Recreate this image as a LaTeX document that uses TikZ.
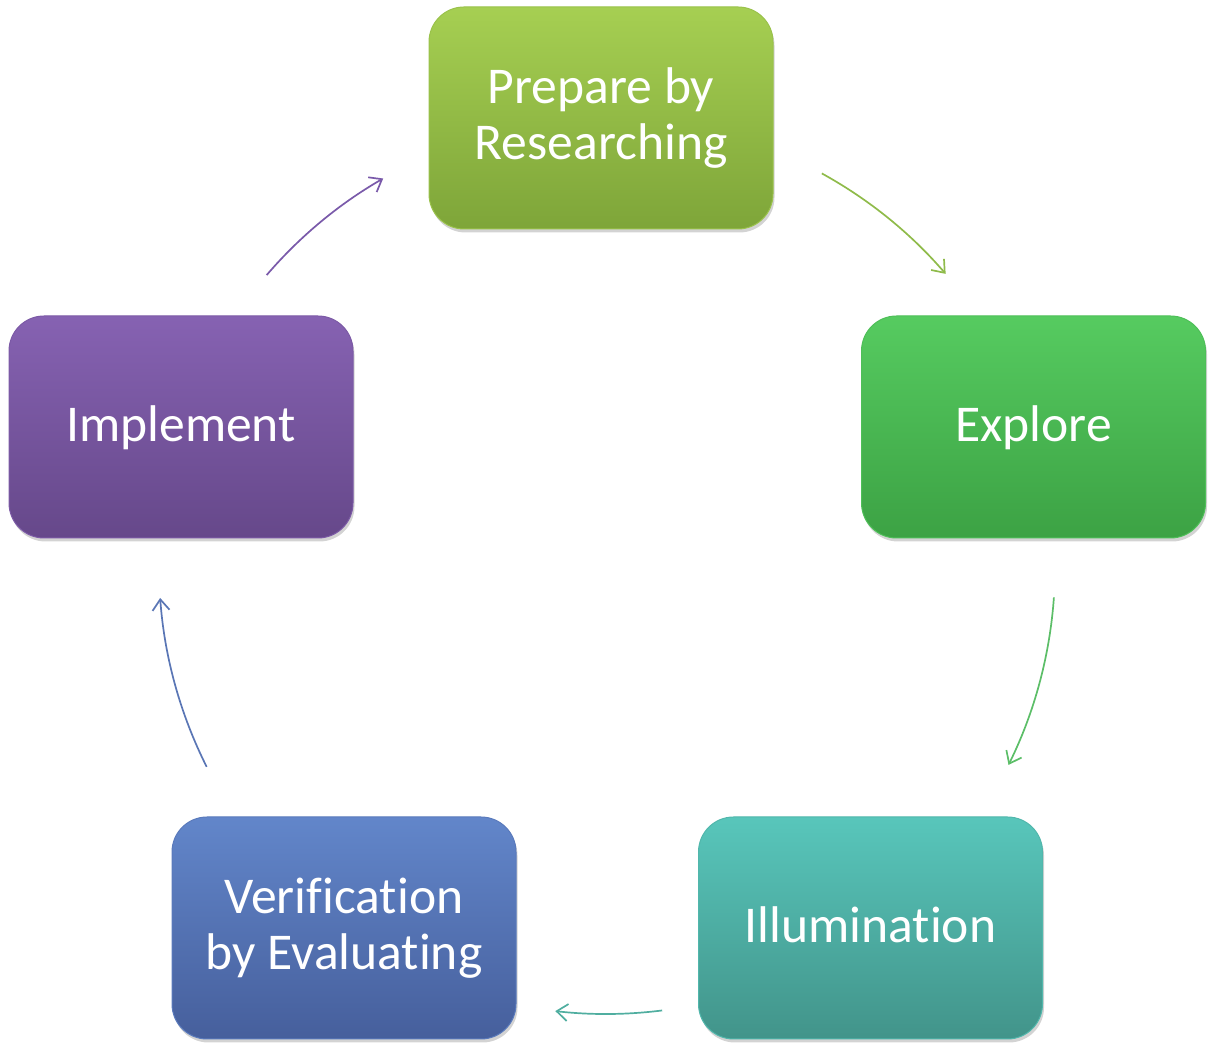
\documentclass[tikz,border=0pt]{standalone}
\usepackage{fontspec}
\setmainfont[Ligatures={NoCommon},RawFeature={-liga;-dlig;-clig}]{Carlito}
\usetikzlibrary{shadows,arrows.meta}
\definecolor{cAt}{RGB}{166,207,82}\definecolor{cAb}{RGB}{126,165,57}
\definecolor{cBt}{RGB}{86,203,96}\definecolor{cBb}{RGB}{60,162,68}
\definecolor{cCt}{RGB}{88,198,187}\definecolor{cCb}{RGB}{66,148,138}
\definecolor{cDt}{RGB}{98,134,202}\definecolor{cDb}{RGB}{70,95,156}
\definecolor{cEt}{RGB}{134,98,178}\definecolor{cEb}{RGB}{102,72,138}
\definecolor{aA}{RGB}{143,187,74}\definecolor{aB}{RGB}{92,190,104}
\definecolor{aC}{RGB}{80,174,160}\definecolor{aD}{RGB}{90,118,181}
\definecolor{aE}{RGB}{122,90,170}
\newcommand{\onetext}[1]{\raisebox{-15pt}[0pt][0pt]{#1}}
\newcommand{\twotext}[1]{\raisebox{14.5pt}[0pt][0pt]{\begin{tabular}[t]{@{}c@{}}#1\end{tabular}}}
\tikzset{
  stepbox/.style={rounded corners=35pt,minimum width=344pt,minimum height=222pt,
    align=center,text=white,font=\fontsize{51.6}{56.5}\selectfont,
    drop shadow={opacity=0.35,shadow xshift=1.5pt,shadow yshift=-3.5pt},
    line width=1pt},
  cyc/.style={line width=1.7pt,-{Straight Barb[length=11pt,width=17pt,line width=1.7pt]}}
}
\begin{document}
\begin{tikzpicture}[x=1pt,y=1pt]
\useasboundingbox (0,0) rectangle (1215,1057);
\node[stepbox,top color=cAt,bottom color=cAb,draw=cAt!70!cAb] (prep) at (601,939) {\twotext{Prepare by\\Researching}};
\node[stepbox,top color=cBt,bottom color=cBb,draw=cBt!70!cBb] (expl) at (1033.5,630) {\onetext{Explore}};
\node[stepbox,top color=cCt,bottom color=cCb,draw=cCt!70!cCb] (illu) at (870.5,129) {\onetext{Illumination}};
\node[stepbox,top color=cDt,bottom color=cDb,draw=cDt!70!cDb] (veri) at (344,129) {\twotext{Verification\\by Evaluating}};
\node[stepbox,top color=cEt,bottom color=cEb,draw=cEt!70!cEb] (impl) at (181,630) {\onetext{Implement}};
\coordinate (ctr) at (606,491);
\coordinate (s1) at ([shift={(61.2:448pt)}]ctr);
\coordinate (s2) at ([shift={(-4:449pt)}]ctr);
\coordinate (s3) at ([shift={(-82.8:448pt)}]ctr);
\coordinate (s4) at ([shift={(206.7:447pt)}]ctr);
\coordinate (s5) at ([shift={(139.4:447pt)}]ctr);
\draw[cyc,aA] (s1) arc[start angle=61.2,end angle=40.7,radius=448pt];
\draw[cyc,aB] (s2) arc[start angle=-4,end angle=-26.3,radius=449pt];
\draw[cyc,aC] (s3) arc[start angle=-82.8,end angle=-96.5,radius=448pt];
\draw[cyc,aD] (s4) arc[start angle=206.7,end angle=184.1,radius=447pt];
\draw[cyc,aE] (s5) arc[start angle=139.4,end angle=119.9,radius=447pt];
\end{tikzpicture}
\end{document}
